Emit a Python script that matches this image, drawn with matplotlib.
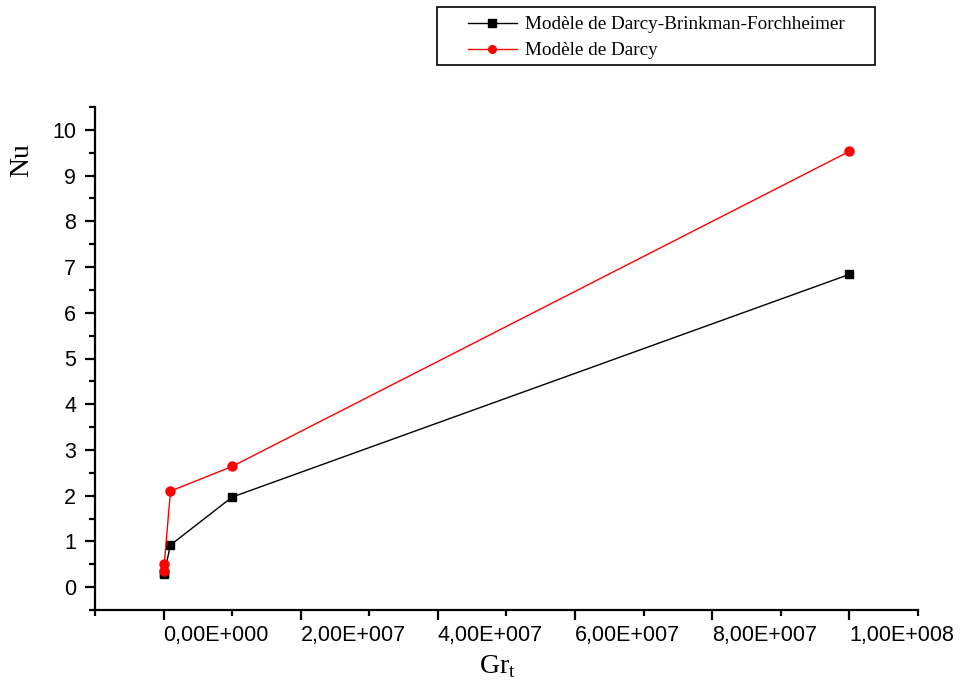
import matplotlib
matplotlib.use("Agg")
import matplotlib.pyplot as plt
from matplotlib.ticker import MultipleLocator, FuncFormatter
from matplotlib.patches import Rectangle

gr_dbf = [1e4, 1e5, 1e6, 1e7, 1e8]
nu_dbf = [0.28, 0.30, 0.92, 1.97, 6.84]
gr_darcy = [1e4, 1e5, 1e6, 1e7, 1e8]
nu_darcy = [0.35, 0.50, 2.10, 2.64, 9.53]
label_dbf = "Modèle de Darcy-Brinkman-Forchheimer"
label_darcy = "Modèle de Darcy"

W, H = 962, 689
fig = plt.figure(figsize=(W/100, H/100), dpi=100)
ax = fig.add_axes([95/W, 1-610/H, (918-95)/W, (610-107)/H])

l1, = ax.plot(gr_dbf, nu_dbf, color="black", lw=1, marker="s", ms=6, label=label_dbf)
l2, = ax.plot(gr_darcy, nu_darcy, color="red", lw=1, marker="o", ms=6.5, label=label_darcy)

ax.set_xlim(-1e7, 1.1e8)
ax.set_ylim(-0.5, 10.5)
for s in ["top", "right"]:
    ax.spines[s].set_visible(False)
for s in ["left", "bottom"]:
    ax.spines[s].set_linewidth(1.6)

ax.xaxis.set_major_locator(MultipleLocator(2e7))
ax.xaxis.set_minor_locator(MultipleLocator(1e7))
ax.yaxis.set_major_locator(MultipleLocator(1))
ax.yaxis.set_minor_locator(MultipleLocator(0.5))

def xfmt(v, pos):
    if abs(v) < 1:
        return "0,00E+000"
    exp = 7 if abs(v) < 1e8 - 1 else 8
    mant = v / 10**exp
    return f"{mant:.2f}".replace(".", ",") + f"E+{exp:03d}"

ax.xaxis.set_major_formatter(FuncFormatter(xfmt))
ax.tick_params(axis="both", which="major", direction="out", length=7.5, width=1.6,
               labelsize=15.5)
ax.tick_params(axis="both", which="minor", direction="out", length=4, width=1.6)
for lab in ax.get_xticklabels() + ax.get_yticklabels():
    lab.set_fontfamily("Liberation Sans")
for lab in ax.get_xticklabels():
    lab.set_horizontalalignment("left")
ax.tick_params(axis="x", pad=3)
ax.tick_params(axis="y", pad=6)

fig.text(22/W, 1-160/H, "Nu", family="Liberation Serif", fontsize=20,
         rotation=90, ha="center", va="center")
fig.text(497/W, 1-667/H, "Gr$_\\mathregular{t}$", family="Liberation Serif",
         fontsize=20, ha="center", va="center")

fig.patches.append(Rectangle((437/W, 1-65/H), 438/W, 58/H, transform=fig.transFigure,
                             fill=False, edgecolor="black", lw=1.2))
leg = fig.legend(handles=[l1, l2], loc="upper left",
                 bbox_to_anchor=(468/W, 1-16/H), bbox_transform=fig.transFigure,
                 prop={"family": "Liberation Serif", "size": 13.8},
                 frameon=False, handlelength=2.55, borderpad=0, labelspacing=0.45,
                 borderaxespad=0, handletextpad=0.4)
for h in leg.legend_handles:
    h.set_markersize(5.5)

fig.savefig("out.png", dpi=100)
